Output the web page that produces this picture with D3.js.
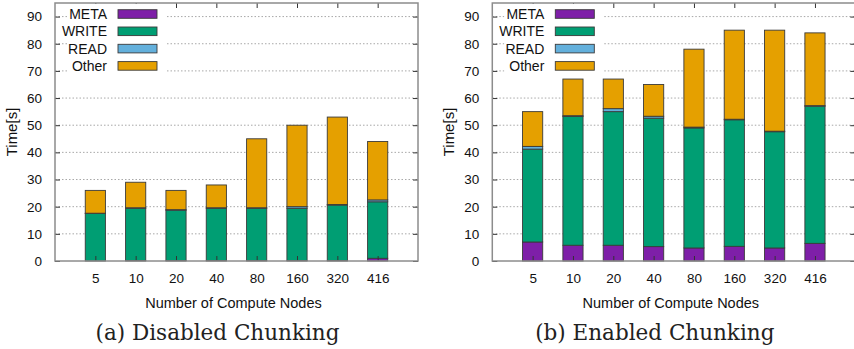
<!DOCTYPE html>
<html>
<head>
<meta charset="utf-8">
<script src="https://cdn.jsdelivr.net/npm/d3@7"></script>
<style>
  body { margin: 0; background: #fff; }
  svg text { font-family: "Liberation Sans", Arial, sans-serif; }
</style>
</head>
<body>
<div id="chart"></div>
<script>
// categories and tick labels
var nodes = ["5", "10", "20", "40", "80", "160", "320", "416"];
var keys = ["META", "WRITE", "READ", "Other"];
var yTicks = [0, 10, 20, 30, 40, 50, 60, 70, 80, 90];

// (a) Disabled Chunking
var metaA  = [0.0, 0.2, 0.2, 0.2, 0.2, 0.2, 0.2, 1.0];
var writeA = [17.5, 19.2, 18.5, 19.2, 19.2, 19.2, 20.4, 20.8];
var readA  = [0.1, 0.2, 0.2, 0.2, 0.2, 0.6, 0.2, 0.7];
var otherA = [8.4, 9.4, 7.1, 8.4, 25.4, 30.0, 32.2, 21.5];

// (b) Enabled Chunking
var metaB  = [7.0, 5.8, 5.8, 5.3, 4.8, 5.4, 4.8, 6.5];
var writeB = [34.2, 47.4, 49.2, 47.3, 44.2, 46.6, 42.8, 50.5];
var readB  = [1.0, 0.3, 1.1, 0.7, 0.3, 0.2, 0.2, 0.2];
var otherB = [12.8, 13.5, 10.9, 11.7, 28.7, 32.8, 37.2, 26.8];

var colors = {META: "#7e1fa8", WRITE: "#009e73", READ: "#63b0dc", Other: "#e5a000"};

var W = 854, H = 349;
var svg = d3.select("#chart").append("svg")
    .attr("width", W).attr("height", H);

var pw = 363, ph = 258;
var x = d3.scaleLinear().domain([-1, 8]).range([0, pw]);
var y = d3.scaleLinear().domain([0, 95]).range([ph, 0]);
var barW = x(0.5) - x(0);

function table(meta, write, read, other) {
    return nodes.map(function(n, i) {
        return {node: n, i: i, META: meta[i], WRITE: write[i], READ: read[i], Other: other[i]};
    });
}

function panel(left, top, rows, caption) {
    var g = svg.append("g").attr("transform", "translate(" + left + "," + top + ")");

    // dotted grid
    g.selectAll(".grid").data(yTicks.slice(1)).enter().append("line")
        .attr("x1", 0).attr("x2", pw)
        .attr("y1", function(d) { return y(d); })
        .attr("y2", function(d) { return y(d); })
        .attr("stroke", "#a8a8a8").attr("stroke-width", 1)
        .attr("stroke-dasharray", "1.5,2");

    var stacked = d3.stack().keys(keys)(rows);
    g.selectAll(".layer").data(stacked).enter().append("g")
        .attr("fill", function(d) { return colors[d.key]; })
      .selectAll("rect").data(function(d) { return d; }).enter().append("rect")
        .attr("x", function(d) { return x(d.data.i) - barW / 2; })
        .attr("width", barW)
        .attr("y", function(d) { return y(d[1]); })
        .attr("height", function(d) { return y(d[0]) - y(d[1]); })
        .attr("stroke", "#3a3a3a").attr("stroke-width", 0.9);

    // axes, ticks pointing inward like gnuplot
    var bottom = g.append("g").attr("transform", "translate(0," + ph + ")")
        .call(d3.axisBottom(x).tickValues(d3.range(nodes.length))
            .tickFormat(function(i) { return nodes[i]; }).tickSize(-5).tickPadding(12));
    var topAx = g.append("g")
        .call(d3.axisTop(x).tickValues(d3.range(nodes.length)).tickFormat("").tickSize(-5));
    var leftAx = g.append("g")
        .call(d3.axisLeft(y).tickValues(yTicks).tickSize(-5).tickPadding(13));
    var rightAx = g.append("g").attr("transform", "translate(" + pw + ",0)")
        .call(d3.axisRight(y).tickValues(yTicks).tickFormat("").tickSize(-5));
    [bottom, topAx, leftAx, rightAx].forEach(function(a) {
        a.select(".domain").remove();
        a.selectAll(".tick line").attr("stroke", "#333");
        a.selectAll("text").attr("font-size", "13.5px").attr("fill", "#111")
            .attr("font-family", "Liberation Sans, Arial, sans-serif");
    });

    g.append("rect").attr("x", 0).attr("y", 0).attr("width", pw).attr("height", ph)
        .attr("fill", "none").attr("stroke", "#8c8c8c").attr("stroke-width", 1.5);

    // legend
    var leg = g.append("g");
    leg.append("rect").attr("x", 12).attr("y", 1).attr("width", 99).attr("height", 73)
        .attr("fill", "#fff");
    keys.forEach(function(k, j) {
        var cy = 11 + j * 17.3;
        leg.append("text").attr("x", 52).attr("y", cy + 5)
            .attr("text-anchor", "end").attr("font-size", "14px").attr("fill", "#111")
            .text(k);
        leg.append("rect").attr("x", 63).attr("y", cy - 4.3).attr("width", 39).attr("height", 8.6)
            .attr("fill", colors[k]).attr("stroke", "#3a3a3a").attr("stroke-width", 0.9);
    });

    g.append("text").attr("transform", "translate(-38," + (ph / 2) + ") rotate(-90)")
        .attr("text-anchor", "middle").attr("font-size", "15px").attr("fill", "#111")
        .text("Time[s]");
    g.append("text").attr("x", pw / 2 - 3).attr("y", ph + 47)
        .attr("text-anchor", "middle").attr("font-size", "14.5px").attr("fill", "#111")
        .text("Number of Compute Nodes");
    g.append("text").attr("x", pw / 2 - 19).attr("y", ph + 79)
        .attr("text-anchor", "middle").attr("font-size", "21.5px").attr("fill", "#222")
        .style("font-family", "DejaVu Serif, serif")
        .text(caption);
}

panel(55, 3, table(metaA, writeA, readA, otherA), "(a) Disabled Chunking");
panel(492.3, 3, table(metaB, writeB, readB, otherB), "(b) Enabled Chunking");
</script>
</body>
</html>
